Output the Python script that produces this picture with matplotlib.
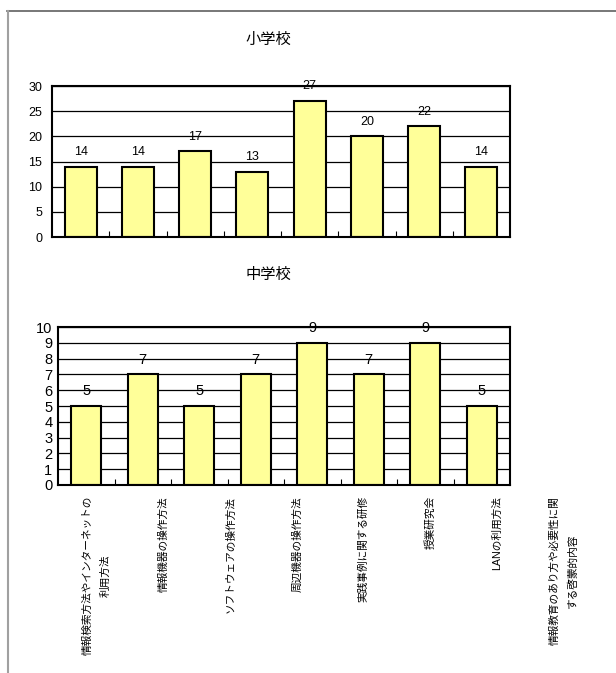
import matplotlib
matplotlib.use("Agg")
import matplotlib.pyplot as plt
from matplotlib.lines import Line2D

plt.rcParams["font.family"] = ["Liberation Sans", "Noto Sans CJK JP"]

categories = [
    "情報検索方法やインターネットの\n利用方法",
    "情報機器の操作方法",
    "ソフトウェアの操作方法",
    "周辺機器の操作方法",
    "実践事例に関する研修",
    "授業研究会",
    "LANの利用方法",
    "情報教育のあり方や必要性に関\nする啓蒙的内容",
]
elementary = [14, 14, 17, 13, 27, 20, 22, 14]
junior_high = [5, 7, 5, 7, 9, 7, 9, 5]
elem_ticks = [0, 5, 10, 15, 20, 25, 30]
jh_ticks = list(range(0, 11))

W, H = 616, 673
BAR_COLOR = "#FFFF99"


def px_rect(left, top, right, bottom):
    return [left / W, 1 - bottom / H, (right - left) / W, (bottom - top) / H]


def draw_panel(ax, values, yticks, tick_fs, val_fs, tick_pad, width):
    x = list(range(len(values)))
    ax.set_axisbelow(True)
    ax.bar(x, values, width=width, color=BAR_COLOR, edgecolor="black",
           linewidth=1.5, zorder=2)
    for xi, v in zip(x, values):
        ax.annotate(str(v), (xi, v), xytext=(0, 10.6), textcoords="offset points",
                    ha="center", va="center", fontsize=val_fs,
                    annotation_clip=False, zorder=4)
    ax.set_xlim(-0.5, len(values) - 0.5)
    ax.set_ylim(yticks[0], yticks[-1])
    ax.set_yticks(yticks)
    ax.yaxis.grid(True, color="black", linewidth=0.9)
    ax.tick_params(axis="y", length=0, labelsize=tick_fs, pad=tick_pad)
    ax.set_xticks([i + 0.5 for i in range(len(values) - 1)])
    ax.set_xticklabels([])
    ax.tick_params(axis="x", direction="in", length=4, width=0.8)
    for s in ax.spines.values():
        s.set_linewidth(1.5)
        s.set_zorder(3)


fig = plt.figure(figsize=(W / 100, H / 100), dpi=100)

# outer frame
fig.add_artist(Line2D([7 / W, 1], [1 - 11 / H, 1 - 11 / H], color="#606060", linewidth=1.2))
fig.add_artist(Line2D([7.5 / W, 7.5 / W], [1 - 11 / H, 0], color="#a0a0a0", linewidth=1.5))

ax1 = fig.add_axes(px_rect(52, 86, 510, 237))
draw_panel(ax1, elementary, elem_ticks, 9, 9, 7, 0.56)
fig.text(268 / W, 1 - 40 / H, "小学校", ha="center", va="center", fontsize=11)

ax2 = fig.add_axes(px_rect(58, 327, 510, 485))
draw_panel(ax2, junior_high, jh_ticks, 10.5, 10.5, 4, 0.53)
fig.text(268 / W, 1 - 275 / H, "中学校", ha="center", va="center", fontsize=11)

# category labels (spread wider than the bars, as in the original)
ax3 = fig.add_axes(px_rect(63.6, 484, 597.2, 485))
ax3.set_xlim(-0.5, len(categories) - 0.5)
ax3.set_xticks(range(len(categories)))
ax3.set_xticklabels(categories, rotation=90, ha="center", va="top",
                    fontsize=7.7, multialignment="center", linespacing=1.9)
ax3.tick_params(axis="x", length=0, pad=8)
ax3.set_yticks([])
for s in ax3.spines.values():
    s.set_visible(False)
ax3.patch.set_visible(False)

fig.savefig("out.png", dpi=100)
